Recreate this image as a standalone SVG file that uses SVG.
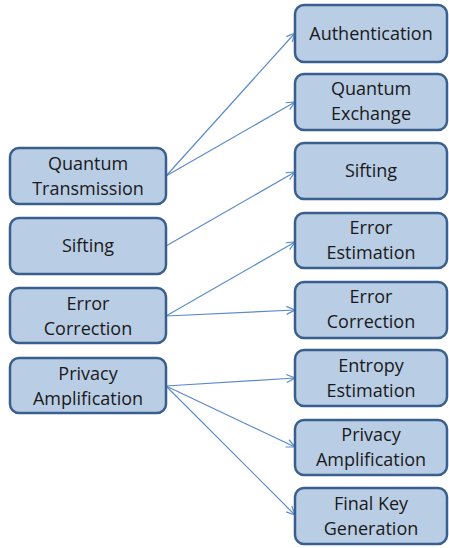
<svg xmlns="http://www.w3.org/2000/svg" width="449" height="548" viewBox="0 0 449 548">
<defs>
<style>
.box rect{fill:#B9CDE5;stroke:#3A5F8E;stroke-width:2.5}
.box text{font-family:"Open Sans","Liberation Sans",sans-serif;font-size:18px;fill:#1A1A1A;text-anchor:middle}
#connectors line{stroke:#5B8BCB;stroke-width:1.2;fill:none;marker-end:url(#arr)}
</style>
<marker id="arr" viewBox="0 0 10 10" refX="9.5" refY="5" markerWidth="10" markerHeight="10" markerUnits="userSpaceOnUse" orient="auto">
<path d="M1,1 L9.5,5 L1,9" fill="none" stroke="#5B8BCB" stroke-width="1.2"/>
</marker>
</defs>
<rect width="449" height="548" fill="#FFFFFF"/>
<g id="connectors">
<line x1="166" y1="176" x2="295" y2="33"/>
<line x1="166" y1="176" x2="295" y2="102"/>
<line x1="166" y1="246" x2="295" y2="172"/>
<line x1="166" y1="316" x2="295" y2="242"/>
<line x1="166" y1="316" x2="295" y2="310"/>
<line x1="166" y1="386" x2="295" y2="378"/>
<line x1="166" y1="386" x2="295" y2="447"/>
<line x1="166" y1="386" x2="295" y2="515"/>
</g>
<g id="l-quantum-transmission" class="box"><rect x="10" y="148" width="156" height="56" rx="9"/><text x="88" y="170">Quantum</text><text x="88" y="195">Transmission</text></g>
<g id="l-sifting" class="box"><rect x="10" y="218" width="156" height="56" rx="9"/><text x="88" y="252">Sifting</text></g>
<g id="l-error-correction" class="box"><rect x="10" y="288" width="156" height="55" rx="9"/><text x="88" y="310">Error</text><text x="88" y="335">Correction</text></g>
<g id="l-privacy-amplification" class="box"><rect x="10" y="358" width="156" height="55" rx="9"/><text x="88" y="380">Privacy</text><text x="88" y="405">Amplification</text></g>
<g id="r-authentication" class="box"><rect x="295" y="5" width="152" height="57" rx="9"/><text x="371" y="40">Authentication</text></g>
<g id="r-quantum-exchange" class="box"><rect x="295" y="74" width="152" height="56" rx="9"/><text x="371" y="95">Quantum</text><text x="371" y="120">Exchange</text></g>
<g id="r-sifting" class="box"><rect x="295" y="143" width="152" height="56" rx="9"/><text x="371" y="177">Sifting</text></g>
<g id="r-error-estimation" class="box"><rect x="295" y="213" width="152" height="55" rx="9"/><text x="371" y="234">Error</text><text x="371" y="259">Estimation</text></g>
<g id="r-error-correction" class="box"><rect x="295" y="282" width="152" height="56" rx="9"/><text x="371" y="303">Error</text><text x="371" y="328">Correction</text></g>
<g id="r-entropy-estimation" class="box"><rect x="295" y="350" width="152" height="56" rx="9"/><text x="371" y="372">Entropy</text><text x="371" y="397">Estimation</text></g>
<g id="r-privacy-amplification" class="box"><rect x="295" y="420" width="152" height="55" rx="9"/><text x="371" y="441">Privacy</text><text x="371" y="466">Amplification</text></g>
<g id="r-final-key-generation" class="box"><rect x="295" y="488" width="152" height="56" rx="9"/><text x="371" y="510">Final Key</text><text x="371" y="535">Generation</text></g>
</svg>
